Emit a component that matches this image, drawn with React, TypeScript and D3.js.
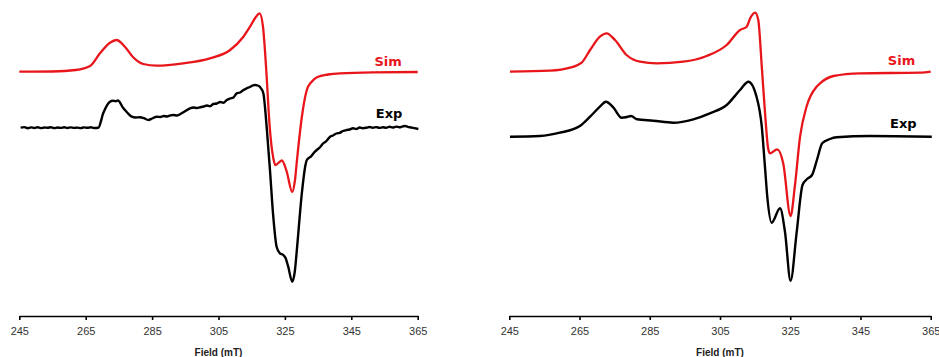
import React, { useRef, useEffect } from 'react'
import * as d3 from 'd3'

type Pt = [number, number]

const fieldTicks = [245, 265, 285, 305, 325, 345, 365]

// field (mT), intensity (a.u.)
const leftSim: Pt[] = [
  [245, 244.3], [255, 244.5], [262, 246], [266.3, 250], [269.3, 262.7], [272.3, 273.3],
  [274.3, 276], [276.8, 269.3], [279.3, 258.7], [282.3, 252], [286.4, 250.3], [294.4, 252.7],
  [302.4, 257.7], [308.5, 266], [312.5, 279.3], [314.5, 289.3], [316.0, 297.7], [317.4, 302.7],
  [318.4, 289.3], [319.4, 245], [320.4, 190], [321.5, 158], [322.1, 151], [324.1, 155.5],
  [325.5, 145], [327.2, 124], [328.0, 135], [328.7, 158], [330.1, 199], [331.6, 226],
  [333.0, 234], [334.8, 239], [338, 241.5], [341.6, 242.7], [351.5, 243.7], [365, 244],
]

const leftExp: Pt[] = [
  [245.4, 188.3], [246.5, 188.9], [247.5, 187.8], [248.5, 188.6], [249.5, 188.0], [250.5, 188.7],
  [251.5, 187.9], [252.5, 188.5], [253.5, 188.2], [254.5, 188.8], [255.5, 187.9], [256.5, 188.5],
  [257.5, 188.1], [258.5, 188.7], [259.5, 188.0], [260.5, 188.6], [261.5, 188.1], [262.5, 188.4],
  [263.5, 187.9], [264.5, 188.6], [265.5, 188.2], [266.5, 188.7], [267.5, 188.0], [268.8, 188.3],
  [270.3, 203], [272.3, 214.3], [273.2, 215.3], [274.0, 214.8], [274.7, 215.5], [276.3, 208],
  [277.5, 203.5], [278.9, 199.3], [280.0, 198.5], [281.4, 198.7], [282.5, 197.8], [283.9, 196],
  [285.0, 197.5], [286.4, 199.3], [287.5, 199.0], [288.5, 200.0], [289.5, 199.5], [290.5, 200.6],
  [291.4, 201], [292.5, 200.5], [293.9, 202.7], [295.0, 205], [296.4, 207.7], [297.5, 208.5],
  [298.5, 208.0], [299.4, 208.7], [300.5, 209.5], [301.5, 210.5], [302.5, 209.8], [303.4, 212],
  [304.5, 212.5], [305.5, 214], [306.5, 213.3], [307.5, 216], [308.5, 217.5], [309.5, 218.5],
  [310.5, 222.7], [311.5, 223.5], [312.5, 226], [313.5, 227.7], [314.5, 229], [315.3, 230.5],
  [316.0, 231], [316.8, 230.5], [317.5, 229], [318.5, 222.7], [319.5, 189.3], [320.5, 146],
  [321.5, 99.3], [322.5, 69.3], [323.5, 62.7], [324.5, 61], [325.2, 58], [326.0, 49.3],
  [327.2, 34.3], [328.0, 45], [328.6, 66], [330.1, 122.7], [331.1, 149.3], [331.6, 156],
  [333.0, 160], [333.8, 163.5], [334.6, 166], [335.5, 168.5], [336.5, 172.5], [337.5, 175],
  [338.6, 179.3], [339.5, 180.5], [340.5, 182.5], [341.5, 183.2], [342.5, 185], [343.6, 186],
  [344.5, 186.5], [345.5, 187.8], [346.5, 187], [347.5, 188.5], [348.5, 187.8], [349.6, 188.3],
  [350.5, 189], [351.5, 188.2], [352.5, 188.9], [353.5, 188.1], [354.5, 188.7], [355.5, 188.3],
  [356.5, 189.2], [357.5, 188.5], [358.5, 189.4], [359.5, 188.7], [360.5, 189.6], [361.2, 190],
  [362, 189.2], [363, 188.5], [364, 187.8], [365.2, 187],
]

const rightSim: Pt[] = [
  [245.2, 244.3], [256.6, 245.3], [262.3, 248.3], [265.6, 253.3], [268.0, 266], [270.8, 279.3],
  [272.7, 282.7], [275.1, 276], [278.4, 261], [282.2, 254.3], [287.0, 252.7], [294.5, 254.3],
  [301.2, 260], [306.9, 271], [310.7, 286], [312.6, 289.3], [313.6, 297.7], [315.0, 303.3],
  [315.9, 296], [316.9, 249.3], [317.9, 199.3], [318.7, 167.7], [319.2, 162.7], [321.3, 166.7],
  [323.0, 152.7], [325.1, 100], [326.3, 129.3], [327.8, 179.3], [329.7, 210], [332.5, 229.3],
  [333.5, 232.7], [337.3, 240], [344.9, 242.7], [362, 243.3], [365, 244.3],
]

const rightExp: Pt[] = [
  [245.2, 179.3], [253.7, 180], [259.4, 183.3], [265.1, 190], [268.0, 199.3], [270.8, 209.3],
  [272.5, 214.3], [274.6, 208.7], [277.0, 198.3], [278.2, 198.7], [279.7, 200], [281.3, 196.7],
  [286.0, 195.3], [291.7, 193.3], [297.4, 196.7], [302.1, 202.7], [306.9, 211], [310.7, 226],
  [313.1, 234.3], [315.4, 219.3], [316.9, 189.3], [317.8, 149.3], [318.5, 118], [319.7, 93.3],
  [322.1, 107.7], [323.5, 84.3], [325.1, 35.2], [326.8, 82.7], [328.5, 131], [329.8, 137],
  [331.2, 141], [332.6, 156], [334.1, 172.7], [336.3, 177], [338.2, 178.7], [347.7, 180],
  [365.3, 179.3],
]

const panels = [
  { sim: leftSim, exp: leftExp, left: 19.3, right: 417.7, simLabel: [356.1, 250] as Pt, expLabel: [356.4, 198.5] as Pt },
  { sim: rightSim, exp: rightExp, left: 509.3, right: 930.7, simLabel: [356.7, 251] as Pt, expLabel: [357.2, 188.5] as Pt },
]

const width = 939
const height = 357
const axisY = 316

export default function App() {
  const svgRef = useRef<SVGSVGElement>(null)

  useEffect(() => {
    const svg = d3.select(svgRef.current)
    svg.selectAll('*').remove()

    const y = d3.scaleLinear().domain([0, axisY]).range([axisY, 0])

    panels.forEach(p => {
      const x = d3.scaleLinear().domain([245, 365]).range([p.left, p.right])
      const g = svg.append('g')

      const line = d3.line<Pt>()
        .x(d => x(d[0]))
        .y(d => y(d[1]))
        .curve(d3.curveMonotoneX)

      g.append('path')
        .datum(p.sim)
        .attr('d', line)
        .attr('fill', 'none')
        .attr('stroke', '#e8161b')
        .attr('stroke-width', 2.3)
        .attr('stroke-linejoin', 'round')

      g.append('path')
        .datum(p.exp)
        .attr('d', line)
        .attr('fill', 'none')
        .attr('stroke', '#000')
        .attr('stroke-width', 2.4)
        .attr('stroke-linejoin', 'round')

      g.append('text')
        .attr('x', x(p.simLabel[0]))
        .attr('y', y(p.simLabel[1]))
        .attr('text-anchor', 'middle')
        .attr('font-family', 'DejaVu Sans, Verdana, sans-serif')
        .attr('font-weight', 'bold')
        .attr('font-size', 13)
        .attr('fill', '#e8161b')
        .text('Sim')

      g.append('text')
        .attr('x', x(p.expLabel[0]))
        .attr('y', y(p.expLabel[1]))
        .attr('text-anchor', 'middle')
        .attr('font-family', 'DejaVu Sans, Verdana, sans-serif')
        .attr('font-weight', 'bold')
        .attr('font-size', 13)
        .attr('fill', '#000')
        .text('Exp')

      const axis = g.append('g')
        .attr('transform', `translate(0,${axisY})`)
        .call(d3.axisBottom(x).tickValues(fieldTicks).tickSizeInner(4).tickSizeOuter(0).tickPadding(7))
      axis.select('.domain').attr('stroke', '#000').attr('stroke-width', 1.6)
      axis.selectAll('.tick line').attr('stroke', '#000').attr('stroke-width', 1.6)
      axis.selectAll('.tick text')
        .attr('font-family', 'Liberation Sans, Arial, sans-serif')
        .attr('font-size', 11)
        .attr('fill', '#333')

      g.append('text')
        .attr('x', (p.left + p.right) / 2)
        .attr('y', 356)
        .attr('text-anchor', 'middle')
        .attr('font-family', 'Liberation Sans, Arial, sans-serif')
        .attr('font-weight', 'bold')
        .attr('font-size', 10)
        .attr('fill', '#222')
        .text('Field (mT)')
    })
  }, [])

  return (
    <svg
      ref={svgRef}
      width={width}
      height={height}
      viewBox={`0 0 ${width} ${height}`}
      style={{ position: 'absolute', left: 0, top: 0, background: '#fff' }}
      role="img"
      aria-label="Simulated and experimental EPR spectra"
    />
  )
}
